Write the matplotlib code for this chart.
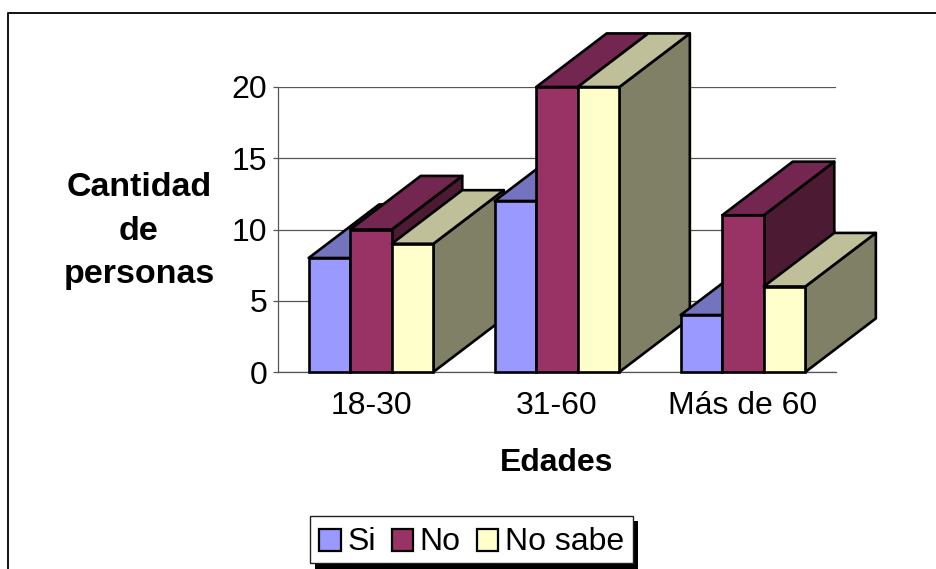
#!/usr/bin/env python3
"""Excel style 3D clustered bars: Cantidad de personas por edades."""
import matplotlib
matplotlib.use('Agg')
import matplotlib.pyplot as plt
import matplotlib.patheffects as pe
from matplotlib.lines import Line2D
from matplotlib.patches import Patch

plt.rcParams['font.family'] = ['Liberation Sans', 'DejaVu Sans']

edades = ['18-30', '31-60', 'Más de 60']
si = [8, 12, 4]
no = [10, 20, 11]
no_sabe = [9, 20, 6]
series_names = ['Si', 'No', 'No sabe']
y_ticks = [0, 5, 10, 15, 20]

# front, top, side colours per series
colors = [('#9999FF', '#7373BF', '#4D4D80'),
          ('#993366', '#732650', '#4D1A33'),
          ('#FFFFCC', '#BFBF99', '#808066')]

W, H = 936, 569
BAR_W = 0.2235
DEPTH_X = 0.379   # depth of the boxes, in x data units
DEPTH_Y = 3.76    # same, in y data units
EDGE = 1.9

fig = plt.figure(figsize=(W / 100, H / 100), dpi=100, facecolor='white')
ax = fig.add_axes([278 / W, 1 - 372 / H, (836 - 278) / W, (372 - 87) / H])
ax.set_xlim(-0.5, 2.5)
ax.set_ylim(0, 20)
ax.patch.set_visible(False)

for s in ('top', 'right'):
    ax.spines[s].set_visible(False)
for s in ('left', 'bottom'):
    ax.spines[s].set_color('#555555')
    ax.spines[s].set_linewidth(0.9)

ax.set_yticks(y_ticks)
ax.set_xticks(range(len(edades)))
ax.set_xticklabels(edades)
ax.tick_params(axis='y', length=3.6, width=0.9, color='#555555', labelsize=23, pad=4)
ax.tick_params(axis='x', length=0, labelsize=23, pad=14)
ax.yaxis.grid(True, color='#555555', linewidth=0.9)
ax.set_axisbelow(True)

# draw back to front so nearer boxes cover the ones behind
z = 3
for g in range(len(edades)):
    for j, values in enumerate((si, no, no_sabe)):
        x0 = g + (j - 1.5) * BAR_W
        x1 = x0 + BAR_W
        v = values[g]
        front, top, side = colors[j]
        ax.fill([x1, x1 + DEPTH_X, x1 + DEPTH_X, x1],
                [0, DEPTH_Y, v + DEPTH_Y, v],
                facecolor=side, edgecolor='black', linewidth=EDGE,
                clip_on=False, zorder=z, joinstyle='round')
        ax.fill([x0, x0 + DEPTH_X, x1 + DEPTH_X, x1],
                [v, v + DEPTH_Y, v + DEPTH_Y, v],
                facecolor=top, edgecolor='black', linewidth=EDGE,
                clip_on=False, zorder=z, joinstyle='round')
        ax.bar(x0, v, width=BAR_W, align='edge', facecolor=front,
               edgecolor='black', linewidth=EDGE, clip_on=False, zorder=z + 0.5)
        z += 1

fig.text(139 / W, 1 - 231 / H, 'Cantidad\nde\npersonas', ha='center', va='center',
         fontsize=24.5, fontweight='bold', linespacing=1.53)
fig.text(557 / W, 1 - 463 / H, 'Edades', ha='center', va='center',
         fontsize=23, fontweight='bold')

# chart area border runs off the right and bottom of the picture
fig.add_artist(Line2D([8 / W, 8 / W, 1], [0, 1 - 13 / H, 1 - 13 / H],
                      color='#111111', linewidth=1.4))

handles = [Patch(facecolor=c[0], edgecolor='black', linewidth=1.6) for c in colors]
leg = fig.legend(handles, series_names, ncol=3, loc='center',
                 bbox_to_anchor=(471.5 / W, 1 - 539.5 / H), fontsize=23,
                 fancybox=False, framealpha=1, edgecolor='#222222',
                 handlelength=0.68, handleheight=0.68, handletextpad=0.2,
                 columnspacing=0.5, borderpad=0.28, borderaxespad=0)
leg.get_frame().set_linewidth(1.0)
leg.get_frame().set_path_effects([
    pe.SimplePatchShadow(offset=(3.8, -3.8), shadow_rgbFace='black', alpha=1),
    pe.Normal()])
# legend entries sit a little low inside the box in the original
for t in leg.get_texts():
    t.set_position((0, -2.5))
for p in leg.get_patches():
    p.set_y(p.get_y() - 2.5)

fig.savefig('out.png', dpi=100)
